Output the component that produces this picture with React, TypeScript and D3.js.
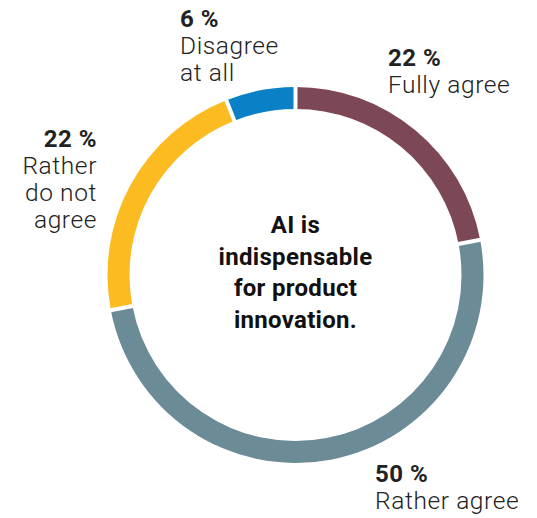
import React from "react";
import * as d3 from "d3";

const categories = ["Fully agree", "Rather agree", "Rather do not agree", "Disagree at all"];
const values = [22, 50, 22, 6];
const colors = ["#7d4855", "#6b8b97", "#fbbb21", "#0a80c6"];
const labelLines = [["Fully agree"], ["Rather agree"], ["Rather", "do not", "agree"], ["Disagree", "at all"]];
const centerLines = ["AI is", "indispensable", "for product", "innovation."];

const W = 537, H = 518;
const cx = 295.5, cy = 275;
const rOuter = 188, rInner = 166;
const FONT = "Roboto, 'Noto Sans', sans-serif";

// label anchors: [x, baseline of first line, anchor]
const labelPos: [number, number, "start" | "end"][] = [
  [388, 66, "start"],
  [375, 482, "start"],
  [97, 147, "end"],
  [180, 27, "start"],
];

export default function App() {
  const pie = d3.pie<number>().sort(null).value((d) => d);
  const arcs = pie(values);
  const arcGen = d3.arc<d3.PieArcDatum<number>>().innerRadius(rInner).outerRadius(rOuter);
  return (
    <svg width={W} height={H} style={{ position: "absolute", left: 0, top: 0 }}>
      <rect width={W} height={H} fill="#fff" />
      <g transform={`translate(${cx},${cy})`}>
        {arcs.map((a, i) => (
          <path key={i} d={arcGen(a) || ""} fill={colors[i]} />
        ))}
        {arcs.map((a, i) => {
          const ang = a.startAngle;
          const x1 = Math.sin(ang) * (rInner - 3), y1 = -Math.cos(ang) * (rInner - 3);
          const x2 = Math.sin(ang) * (rOuter + 3), y2 = -Math.cos(ang) * (rOuter + 3);
          return <line key={"g" + i} x1={x1} y1={y1} x2={x2} y2={y2} stroke="#fff" strokeWidth={4} />;
        })}
      </g>
      {categories.map((c, i) => {
        const [x, y, anchor] = labelPos[i];
        return (
          <g key={c} fontFamily={FONT} fill="#222" textAnchor={anchor}>
            <text x={x} y={y} fontSize={24} fontWeight="bold" letterSpacing={0.5}>{`${values[i]} %`}</text>
            {labelLines[i].map((l, j) => (
              <text key={j} x={x} y={y + 27 * (j + 1)} fontSize={24.5} fontWeight={300} letterSpacing={0.6}>{l}</text>
            ))}
          </g>
        );
      })}
      <g fontFamily={FONT} fill="#111" textAnchor="middle" fontWeight="bold" fontSize={24}>
        {centerLines.map((l, i) => (
          <text key={i} x={cx} y={233 + 31.7 * i} letterSpacing={0.3}>{l}</text>
        ))}
      </g>
    </svg>
  );
}
